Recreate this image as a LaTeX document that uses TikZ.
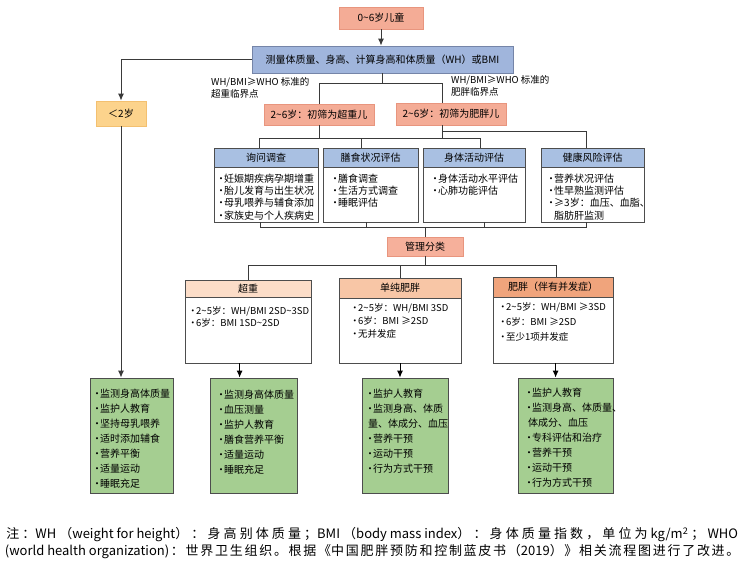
\documentclass[tikz,border=0pt]{standalone}
\usepackage{fontspec}
\setmainfont{Noto Sans CJK SC}
\usetikzlibrary{arrows.meta,calc}
\definecolor{salf}{HTML}{F4AC96}
\definecolor{sald}{HTML}{E8957E}
\definecolor{bluf}{HTML}{A0B5DC}
\definecolor{blud}{HTML}{7585A8}
\definecolor{hblu}{HTML}{A9C0E2}
\definecolor{ylwf}{HTML}{FCD38C}
\definecolor{ylwd}{HTML}{F3C070}
\definecolor{mgf}{HTML}{F6B09B}
\definecolor{cpa}{HTML}{FCDDC8}
\definecolor{cpb}{HTML}{F8C6A6}
\definecolor{cpc}{HTML}{F0A47C}
\definecolor{grnf}{HTML}{A5CE91}
\definecolor{dgr}{HTML}{4D4D4D}
\definecolor{linec}{HTML}{3A3A3A}
\newcommand{\blt}{\makebox[8pt][l]{•}}
\newcommand{\tld}{\textasciitilde}
\newcommand{\sq}{\hfil}
\begin{document}
\begin{tikzpicture}[x=1pt,y=-1pt,
  ln/.style={draw=linec, line width=1pt},
  arr/.style={ln, -{Latex[length=7pt,width=6pt]}},
  bx/.style={line width=0.8pt, inner sep=0pt, font=\fontsize{10}{12}\selectfont},
  salm/.style={bx, fill=salf, draw=sald},
  bluebox/.style={bx, fill=bluf, draw=blud},
  ylw/.style={bx, fill=ylwf, draw=ylwd},
  mgbox/.style={bx, fill=mgf, draw=sald},
  hdr/.style={bx, fill=hblu, draw=dgr},
  bodyb/.style={bx, fill=white, draw=dgr},
  grn/.style={bx, fill=grnf, draw=dgr},
  lst/.style={inner sep=0pt, align=left, anchor=north west},
  lbl/.style={inner sep=0pt, align=left, anchor=north west, font=\fontsize{9.5}{12}\selectfont},
  note/.style={inner sep=0pt, anchor=west, font=\fontsize{13}{15}\selectfont}
]
\useasboundingbox (0,0) rectangle (744,561);
\fill[white] (0,0) rectangle (744,561);

% top part
\node[salm, minimum width=84, minimum height=22] (top) at (381,18) {0\tld6岁儿童};
\node[bluebox, minimum width=261, minimum height=27] (meas) at (382.5,59.5) {测量体质量、身高、计算身高和体质量（WH）或BMI};
\node[ylw, minimum width=50, minimum height=25] (lt2) at (121,113.5) {＜2岁};
\node[salm, minimum width=110, minimum height=21] (ow) at (319,114.5) {2\tld6岁：初筛为超重儿};
\node[salm, minimum width=110, minimum height=22] (ob) at (451,114) {2\tld6岁：初筛为肥胖儿};
\node[lbl] (l1) at (211,77) {WH/BMI≥WHO 标准的\\超重临界点};
\node[lbl] (l2) at (451,75) {WH/BMI≥WHO 标准的\\肥胖临界点};

% assessment
\node[hdr, minimum width=104, minimum height=19] (a1) at (266,157.5) {询问调查};
\node[hdr, minimum width=95, minimum height=19] (a2) at (370.5,157.5) {膳食状况评估};
\node[hdr, minimum width=102, minimum height=19] (a3) at (474,157.5) {身体活动评估};
\node[hdr, minimum width=103, minimum height=19] (a4) at (592.5,157.5) {健康风险评估};
\node[bodyb, minimum width=104, minimum height=55] (a1b) at (266,194.5) {};
\node[bodyb, minimum width=95, minimum height=55] (a2b) at (370.5,194.5) {};
\node[bodyb, minimum width=102, minimum height=55] (a3b) at (474,194.5) {};
\node[bodyb, minimum width=103, minimum height=55] (a4b) at (592.5,194.5) {};
\begin{scope}[every node/.append style={font=\fontsize{10}{12.3}\selectfont}]
\node[lst] (a1t) at (216,173.5) {\blt 妊娠期疾病孕期增重\\\blt 胎儿发育与出生状况\\\blt 母乳喂养与辅食添加\\\blt 家族史与个人疾病史};
\node[lst] (a2t) at (330,173.5) {\blt 膳食调查\\\blt 生活方式调查\\\blt 睡眠评估};
\node[lst] (a3t) at (430,173.5) {\blt 身体活动水平评估\\\blt 心肺功能评估};
\node[lst] (a4t) at (546,173.5) {\blt 营养状况评估\\\blt 性早熟监测评估\\\blt ≥3岁：血压、血脂、\\\hspace{8pt}脂肪肝监测};
\end{scope}

\node[mgbox, minimum width=76, minimum height=19] (mgmt) at (425,246.5) {管理分类};

% categories
\node[bx, fill=cpa, draw=dgr, minimum width=126, minimum height=17] (c1) at (248,288.5) {超重};
\node[bx, fill=cpb, draw=dgr, minimum width=122, minimum height=20] (c2) at (400,288) {单纯肥胖};
\node[bx, fill=cpc, draw=dgr, minimum width=120, minimum height=20] (c3) at (553,287) {肥胖（伴有并发症）};
\node[bodyb, minimum width=126, minimum height=66] (c1b) at (248,330) {};
\node[bodyb, minimum width=122, minimum height=65] (c2b) at (400,330.5) {};
\node[bodyb, minimum width=120, minimum height=66] (c3b) at (553,330) {};
\node[lst, font=\fontsize{9.5}{12}\selectfont] (c1t) at (188,306.5) {\blt 2\tld5岁：WH/BMI 2SD\tld3SD\\\blt 6岁：BMI 1SD\tld2SD};
\node[lst, font=\fontsize{9.5}{13}\selectfont] (c2t) at (350,303.5) {\blt 2\tld5岁：WH/BMI 3SD\\\blt 6岁：BMI ≥2SD\\\blt 无并发症};
\node[lst, font=\fontsize{9.5}{15}\selectfont] (c3t) at (498,302.5) {\blt 2\tld5岁：WH/BMI ≥3SD\\\blt 6岁：BMI ≥2SD\\\blt 至少1项并发症};

% green boxes
\node[grn, minimum width=83, minimum height=115] (g1) at (131.5,435.5) {};
\node[grn, minimum width=87, minimum height=115] (g2) at (253.5,435.5) {};
\node[grn, minimum width=86, minimum height=115] (g3) at (405,435.5) {};
\node[grn, minimum width=95, minimum height=115] (g4) at (565.5,435.5) {};
\begin{scope}[every node/.append style={font=\fontsize{10}{15}\selectfont}]
\node[lst] (g1t) at (92,388.5) {\blt 监测身高体质量\\\blt 监护人教育\\\blt 坚持母乳喂养\\\blt 适时添加辅食\\\blt 营养平衡\\\blt 适量运动\\\blt 睡眠充足};
\node[lst] (g2t) at (216,390) {\blt 监测身高体质量\\\blt 血压测量\\\blt 监护人教育\\\blt 膳食营养平衡\\\blt 适量运动\\\blt 睡眠充足};
\node[lst] (g3t) at (365,388.5) {\blt 监护人教育\\\blt 监测身高、体质\\\hspace{3pt}量、体成分、血压\\\blt 营养干预\\\blt 运动干预\\\blt 行为方式干预};
\node[lst] (g4t) at (524,387.5) {\blt 监护人教育\\\blt 监测身高、体质量、\\\hspace{4pt}体成分、血压\\\blt 专科评估和治疗\\\blt 营养干预\\\blt 运动干预\\\blt 行为方式干预};
\end{scope}

% connectors
\draw[arr] (top.south) -- (top.south |- meas.north);
\draw[arr] (meas.west) -| (lt2.north);
\draw[ln] (meas.south) -- ++(0,10) coordinate (m1);
\draw[ln] (ow.north) |- (m1) -| ($(ob.north west)+(47,0)$);
\draw[ln] ($(a1.north west)+(46,0)$) |- ($(a3.north west)+(58,-9)$) -- ($(a3.north west)+(58,0)$);
\draw[ln] ($(a2.north west)+(39,0)$) -- ++(0,-9);
\draw[ln] (ow.south) -- ++(0,14);
\draw[ln] ($(ob.south west)+(47,0)$) -- ++(0,14);
\draw[ln] ($(ob.south west)+(47,6)$) -| ($(a4.north west)+(46,0)$);
\draw[ln] ($(a1b.south west)+(47,0)$) |- ($(a4b.south west)+(46,5)$) -- ($(a4b.south west)+(46,0)$);
\draw[ln] ($(a2b.south west)+(44,0)$) -- ++(0,5);
\draw[ln] ($(a3b.south west)+(62,0)$) -- ++(0,5);
\draw[ln] (mgmt.north) -- ++(0,-10);
\draw[ln] (mgmt.south) -- ++(0,10);
\draw[ln] ($(c1.north west)+(64,0)$) |- ($(c3.north west)+(64,-11)$) -- ($(c3.north west)+(64,0)$);
\draw[ln] (c2.north) -- ++(0,-12);
\draw[arr] (lt2.south) -- (lt2.south |- g1.north);

% note
\node[note] (n1) at (3,535) {\makebox[738pt]{注\sq：WH\sq（weight for height）\sq：\sq 身\sq 高\sq 别\sq 体\sq 质\sq 量\sq；BMI\sq（body mass index）\sq：\sq 身\sq 体\sq 质\sq 量\sq 指\sq 数\sq，\sq 单\sq 位\sq 为 kg/m\textsuperscript{2}\sq；\sq WHO}};
\node[note] (n2) at (3,552) {\makebox[738pt]{(world health organization)\sq：\sq 世\sq 界\sq 卫\sq 生\sq 组\sq 织\sq。\sq 根\sq 据\sq《中\sq 国\sq 肥\sq 胖\sq 预\sq 防\sq 和\sq 控\sq 制\sq 蓝\sq 皮\sq 书\sq（2019）\sq》\sq 相\sq 关\sq 流\sq 程\sq 图\sq 进\sq 行\sq 了\sq 改\sq 进\sq。}};

% arrows from category boxes to measure boxes (drawn last)
\coordinate (q1) at ($(c1b.south west)+(55,0)$);
\coordinate (q3) at ($(c3b.south west)+(63,0)$);
\draw[arr, draw=black, fill=black] (q1) -- (q1 |- g2.north);
\draw[arr, draw=black, fill=black] (c2b.south) -- (c2b.south |- g3.north);
\draw[arr, draw=black, fill=black] (q3) -- (q3 |- g4.north);
\end{tikzpicture}
\end{document}
